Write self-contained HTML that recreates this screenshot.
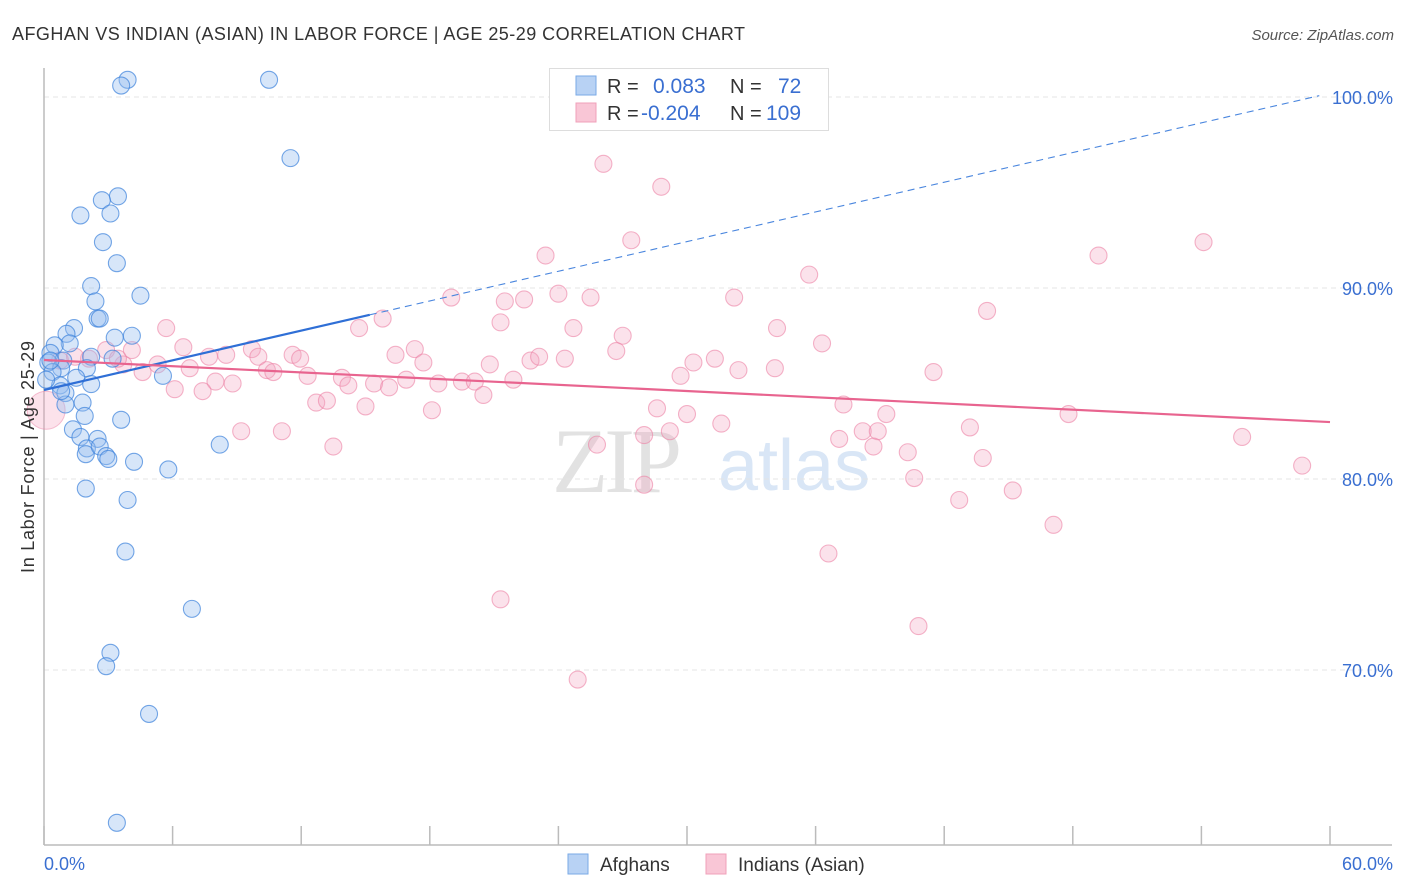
<!DOCTYPE html>
<html><head><meta charset="utf-8"><style>
body{margin:0;background:#fff;font-family:"Liberation Sans",sans-serif;}
svg{display:block}
</style></head><body>
<svg id="chart" width="1406" height="892" xmlns="http://www.w3.org/2000/svg">
<text x="12" y="40" font-size="18" fill="#333" textLength="733">AFGHAN VS INDIAN (ASIAN) IN LABOR FORCE | AGE 25-29 CORRELATION CHART</text>
<text x="1394" y="40" font-size="15" fill="#555" font-style="italic" text-anchor="end">Source: ZipAtlas.com</text>
<g>
<text x="552" y="492" font-size="92" font-family="Liberation Serif,serif" fill="#e2e2e2" letter-spacing="-4">ZIP</text>
<text x="718" y="490" font-size="72" fill="#d9e6f6">atlas</text>
</g>
<g id="grid"></g>
<g id="axes"></g>
<g id="pts"></g>
<g id="trends"></g>
<text transform="translate(34,457) rotate(-90)" font-size="18" fill="#333" text-anchor="middle" textLength="232">In Labor Force | Age 25-29</text>
<g>
<rect x="549.5" y="68.5" width="279" height="62" fill="#fff" stroke="#ddd"/>
<rect x="576" y="76" width="20" height="19" fill="#b8d2f4" stroke="#7aaae6"/>
<rect x="576" y="103" width="20" height="19" fill="#f9c6d6" stroke="#f0a0ba"/>
<text x="607" y="93" font-size="20" fill="#333">R =</text>
<text x="653" y="93" font-size="21" fill="#3a6fd1">0.083</text>
<text x="730" y="93" font-size="20" fill="#333">N =</text>
<text x="778" y="93" font-size="21" fill="#3a6fd1">72</text>
<text x="607" y="120" font-size="20" fill="#333">R =</text>
<text x="641" y="120" font-size="21" fill="#3a6fd1">-0.204</text>
<text x="730" y="120" font-size="20" fill="#333">N =</text>
<text x="766" y="120" font-size="21" fill="#3a6fd1">109</text>
</g>
<g>
<rect x="568" y="854" width="20" height="20" fill="#b8d2f4" stroke="#7aaae6"/>
<text x="600" y="871" font-size="19" fill="#333">Afghans</text>
<rect x="706" y="854" width="20" height="20" fill="#f9c6d6" stroke="#f0a0ba"/>
<text x="738" y="871" font-size="19" fill="#333">Indians (Asian)</text>
</g>
</svg>
<script>
const xTicks=[0,6,12,18,24,30,36,42,48,54,60];
const yTicks=[70,80,90,100];
const blueX=[3.9,3.6,10.5,11.5,3.45,2.7,1.7,3.1,2.75,3.4,2.2,4.5,2.4,2.5,2.6,1.4,1.05,3.3,4.1,1.2,0.5,0.3,0.9,2.2,3.2,0.2,0.8,0.4,2.0,5.55,1.5,0.75,2.2,1.0,1.0,1.8,3.6,1.9,1.35,1.7,2.5,2.0,1.95,2.6,2.9,3.0,8.2,4.2,5.8,1.95,3.9,3.8,6.9,3.1,2.9,4.9,3.4,0.3,0.1,0.8];
const blueY=[100.9,100.6,100.9,96.8,94.8,94.6,93.8,93.9,92.4,91.3,90.1,89.6,89.3,88.4,88.4,87.9,87.6,87.4,87.5,87.1,87.0,86.6,86.2,86.4,86.3,86.1,85.8,85.6,85.8,85.4,85.3,84.9,84.97,84.5,83.9,84.0,83.1,83.3,82.6,82.2,82.1,81.6,81.3,81.7,81.2,81.05,81.8,80.9,80.5,79.5,78.9,76.2,73.2,70.9,70.2,67.7,62.0,86.2,85.2,84.6];
const pinkX=[26.1,28.8,54.1,27.4,23.4,49.2,35.7,24.0,25.5,19.0,21.5,22.4,32.2,44.0,15.8,21.3,5.7,14.7,24.7,27.0,34.2,6.5,9.7,17.3,36.3,26.7,2.9,4.1,7.7,8.5,10.0,11.6,11.95,16.4,17.7,20.8,22.7,23.1,24.3,30.3,31.3,5.3,3.7,2.1,0.75,6.8,4.6,10.4,10.7,12.3,32.4,34.1,29.7,41.5,13.9,14.2,15.4,16.9,18.4,19.5,20.1,21.9,8.0,8.8,6.1,7.4,16.1,20.5,12.7,13.2,15.0,18.1,28.6,30.0,37.3,39.3,47.8,31.6,9.2,11.1,13.5,25.8,28.0,29.2,37.1,38.2,38.9,38.7,43.2,55.9,40.3,43.8,58.7,40.6,28.0,45.2,42.7,47.1,36.6,21.3,40.8,24.9,3.45,1.45];
const pinkY=[96.5,95.3,92.4,92.5,91.7,91.7,90.7,89.7,89.5,89.5,89.3,89.4,89.5,88.8,88.4,88.2,87.9,87.9,87.9,87.5,87.9,86.9,86.8,86.8,87.1,86.7,86.75,86.75,86.4,86.5,86.4,86.5,86.3,86.5,86.1,86.0,86.2,86.4,86.3,86.1,86.3,86.0,86.0,86.3,86.2,85.8,85.6,85.7,85.6,85.4,85.7,85.8,85.4,85.6,85.3,84.9,85.0,85.2,85.0,85.1,85.1,85.2,85.1,85.0,84.7,84.6,84.8,84.4,84.0,84.1,83.8,83.6,83.7,83.4,83.9,83.4,83.4,82.9,82.5,82.5,81.7,81.8,82.3,82.5,82.1,82.5,82.5,81.7,82.7,82.2,81.4,81.1,80.7,80.05,79.7,79.4,78.9,77.6,76.1,73.7,72.3,69.5,86.3,86.4];
const bigPink=[[0.1,83.6]];
const blueTrend=[84.66,100.2];
const pinkTrend=[86.23,82.98];
const NS="http://www.w3.org/2000/svg";
const X=v=>44+v*(1286/60);
const Y=v=>97+(100-v)*19.1;
function mk(tag,attrs,parent){const e=document.createElementNS(NS,tag);for(const k in attrs)e.setAttribute(k,attrs[k]);parent.appendChild(e);return e;}
const grid=document.getElementById('grid'),axes=document.getElementById('axes'),pts=document.getElementById('pts'),tr=document.getElementById('trends');
yTicks.forEach(t=>{
 const l=mk('line',{x1:44,x2:1392,y1:Y(t),y2:Y(t),stroke:'#e4e4e4','stroke-dasharray':'5,4'},grid);
 
 
 const tx=mk('text',{x:1393,y:Y(t)+7,'font-size':18,fill:'#3a6fd1','text-anchor':'end'},axes);
 tx.textContent=t.toFixed(1)+'%';
 
 
});
const ax=mk('line',{x1:44,x2:1392,y1:845,y2:845,stroke:'#bbb','stroke-width':1.5},axes);


const ay=mk('line',{x1:44,x2:44,y1:68,y2:845,stroke:'#bbb','stroke-width':1.5},axes);


xTicks.forEach(t=>{
 const l=mk('line',{x1:X(t),x2:X(t),y1:826,y2:845,stroke:'#bbb','stroke-width':1.5},axes);
 
 
});
[[0,'start',44],[60,'end',1393]].forEach(([t,a,x])=>{
 const tx=mk('text',{x:x,y:870,'font-size':18,fill:'#3a6fd1','text-anchor':a},axes);
 tx.textContent=t.toFixed(1)+'%';
 
 
});
bigPink.forEach(p=>{
 const c=mk('circle',{cx:X(p[0]),cy:Y(p[1]),r:19,fill:'rgba(244,160,188,0.3)',stroke:'rgba(236,130,165,0.5)'},pts);
 
 
});
pinkX.forEach((x,i)=>{
 const c=mk('circle',{cx:X(x),cy:Y(pinkY[i]),r:8.5,fill:'rgba(244,165,192,0.32)',stroke:'rgba(236,130,165,0.6)','stroke-width':1.1},pts);
 
 
});
blueX.forEach((x,i)=>{
 const c=mk('circle',{cx:X(x),cy:Y(blueY[i]),r:8.5,fill:'rgba(150,190,240,0.38)',stroke:'rgba(60,130,220,0.7)','stroke-width':1.1},pts);
 
 
});
const bAt=v=>blueTrend[0]+(blueTrend[1]-blueTrend[0])*v/60;
const bs=mk('line',{x1:X(0),y1:Y(bAt(0)),x2:X(15.2),y2:Y(bAt(15.2)),stroke:'#2f6fd6','stroke-width':2.2},tr);


const bd=mk('line',{x1:X(15.2),y1:Y(bAt(15.2)),x2:X(59.5),y2:Y(bAt(59.5)),stroke:'#4a86de','stroke-width':1.1,'stroke-dasharray':'7,5'},tr);


const pl=mk('line',{x1:X(0),y1:Y(pinkTrend[0]),x2:X(60),y2:Y(pinkTrend[1]),stroke:'#e8648f','stroke-width':2.2},tr);


</script>
</body></html>
